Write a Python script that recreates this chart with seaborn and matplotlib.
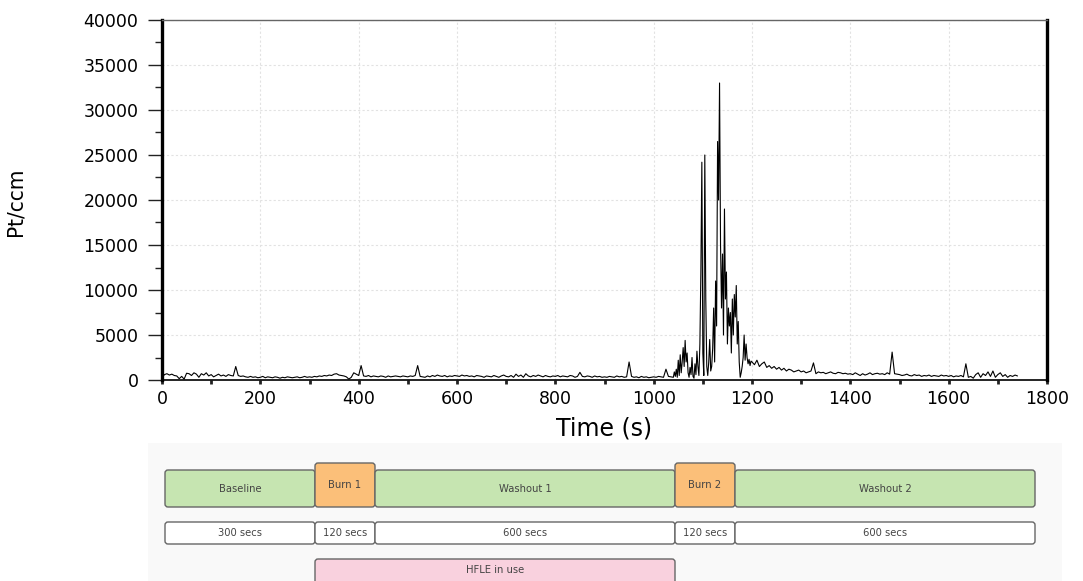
import numpy as np
import pandas as pd
import matplotlib
matplotlib.use("Agg")
import matplotlib.pyplot as plt
from matplotlib.patches import FancyBboxPatch
import seaborn as sns

# ---- particle concentration trace (Pt/ccm) ----
# quiet baseline, 0-1035 s every 5 s
t_pre = np.arange(0, 1040, 5)
c_pre = [
    250, 600, 700, 550, 650, 500, 450, 150, 400, 100, 750, 700, 500, 800, 650, 300, 700, 550, 800, 450,
    600, 350, 500, 650, 450, 550, 400, 600, 500, 450, 1500, 500, 400, 450, 350, 300, 400, 300, 350, 250,
    300, 400, 250, 350, 300, 250, 350, 300, 200, 300, 250, 350, 300, 250, 300, 350, 250, 300, 400, 300,
    350, 300, 400, 350, 450, 400, 500, 450, 550, 500, 650, 700, 550, 500, 450, 350, 100, 300, 800, 650,
    500, 1600, 450, 400, 500, 350, 450, 400, 350, 450, 400, 300, 450, 350, 400, 450, 400, 350, 450, 400,
    350, 450, 400, 500, 1600, 400, 350, 300, 450, 350, 500, 400, 550, 450, 400, 500, 350, 450, 400, 500,
    450, 400, 550, 450, 500, 400, 450, 350, 500, 450, 400, 300, 450, 400, 350, 500, 400, 300, 450, 550,
    400, 350, 500, 300, 650, 400, 550, 300, 700, 450, 350, 500, 400, 550, 450, 350, 500, 400, 350, 450,
    400, 500, 350, 450, 400, 350, 500, 450, 300, 400, 850, 400, 350, 450, 400, 300, 450, 350, 400, 300,
    350, 300, 400, 350, 300, 450, 350, 400, 300, 350, 2000, 400, 300, 350, 250, 400, 300, 350, 250, 300,
    350, 300, 400, 350, 300, 1200, 400, 350,
]

# burst, 1040-1198 s every 2 s
t_burst = np.arange(1040, 1200, 2)
c_burst = [
    300, 900, 400, 1200, 300, 2200, 500, 2800, 800, 2000,
    3600, 1500, 4400, 2000, 3000, 800, 300, 1400, 600, 2500,
    400, 200, 1800, 600, 3200, 1500, 500, 4000, 12000, 24200,
    3000, 500, 25000, 9000, 1500, 500, 2000, 4500, 1000, 1500,
    3500, 8000, 2000, 11000, 6000, 26500, 20000, 33000, 15000, 8000,
    14000, 5000, 19000, 9000, 12000, 4000, 8000, 6000, 7500, 3000,
    9000, 5000, 9500, 7000, 10500, 4000, 6500, 2000, 300, 800,
    1500, 2500, 5000, 2200, 4000, 2500, 1800, 2300, 1600, 2100,
]

# decay and tail, 1200-1740 s every 5 s
t_post = np.arange(1200, 1745, 5)
c_post = [
    2000, 1700, 2200, 1500, 1800, 2000, 1400, 1600, 1300, 1500, 1200, 1400, 1100, 1300, 1000, 1200, 1100, 900, 1000, 1100,
    900, 1000, 800, 900, 1000, 1900, 700, 900, 800, 850, 700, 800, 900, 750, 700, 850, 800, 700, 750, 650,
    700, 600, 800, 650, 500, 700, 550, 650, 800, 600, 700, 750, 650, 700, 600, 800, 650, 3100, 700, 650,
    600, 500, 550, 650, 500, 450, 600, 500, 550, 400, 500, 450, 550, 400, 500, 450, 400, 550, 450, 500,
    400, 500, 350, 450, 400, 500, 350, 1800, 300, 400, 200, 600, 800, 300, 700, 500, 900, 400, 1000, 300,
    600, 800, 400, 600, 300, 500, 400, 550, 450,
]

# ---- protocol timeline ----
phases = ["Baseline", "Burn 1", "Washout 1", "Burn 2", "Washout 2"]
durations = [300, 120, 600, 120, 600]
phase_kind = ["rest", "burn", "rest", "burn", "rest"]
hfle_label = "HFLE in use"
hfle_phases = ["Burn 1", "Washout 1"]

x_ticks = [0, 200, 400, 600, 800, 1000, 1200, 1400, 1600, 1800]
y_ticks = [0, 5000, 10000, 15000, 20000, 25000, 30000, 35000, 40000]

df = pd.DataFrame({
    "time": np.concatenate([t_pre, t_burst, t_post]),
    "conc": np.concatenate([c_pre, c_burst, c_post]),
})

sns.set_theme(style="white")
plt.rcParams["font.family"] = ["DejaVu Sans"]

W, H = 1083, 581
fig = plt.figure(figsize=(W / 100, H / 100), dpi=100)

ax = fig.add_axes([162 / W, 1 - 380 / H, 885 / W, 360 / H])
sns.lineplot(data=df, x="time", y="conc", ax=ax, color="black",
             linewidth=0.8, estimator=None, sort=False)

ax.set_xlim(0, 1800)
ax.set_ylim(0, 40000)
ax.set_xticks(x_ticks)
ax.set_yticks(y_ticks)
ax.set_xticks(np.arange(100, 1800, 200), minor=True)
ax.set_yticks(np.arange(2500, 40000, 5000), minor=True)
ax.tick_params(axis="y", which="major", length=10, width=1.0, color="#222",
               labelsize=12.5, labelcolor="black", pad=7, direction="out", left=True)
ax.tick_params(axis="y", which="minor", length=5, width=1.0, color="#222",
               direction="out", left=True)
ax.tick_params(axis="x", which="both", length=3, width=2.0, color="#222",
               labelsize=12.5, labelcolor="black", pad=4, direction="out", bottom=True)

ax.grid(True, which="major", color="#e2e2e2", linestyle=(0, (2, 2)), linewidth=0.8)
for side in ["left", "right"]:
    ax.spines[side].set_linewidth(2.4)
    ax.spines[side].set_color("black")
ax.spines["bottom"].set_linewidth(1.2)
ax.spines["bottom"].set_color("black")
ax.spines["top"].set_linewidth(1.0)
ax.spines["top"].set_color("#666666")

ax.set_xlabel("Time (s)", fontsize=17, labelpad=6, color="black")
ax.set_ylabel("Pt/ccm", fontsize=16, color="black", family="DejaVu Sans",
              fontstretch="condensed")
ax.yaxis.set_label_coords(-0.154, 0.496)

# ---- timeline panel (x in seconds, y in pixel rows from its top) ----
tl = fig.add_axes([148 / W, 0, 914 / W, 138 / H])
tl.set_xlim((148 - 165) * 2, (1062 - 165) * 2)
tl.set_ylim(138, 0)
tl.set_facecolor("#f9f9f9")
tl.set_xticks([])
tl.set_yticks([])
for s in tl.spines.values():
    s.set_visible(False)

colors = {"rest": "#c6e5b1", "burn": "#fbbf79"}
edge = "#666666"
txt = "#444444"


def box(x0, x1, y0, y1, face, label, ty=None):
    p = FancyBboxPatch((x0, y0), x1 - x0, y1 - y0,
                       boxstyle="round,pad=0,rounding_size=6",
                       mutation_aspect=0.5, facecolor=face,
                       edgecolor=edge, linewidth=1.0)
    tl.add_patch(p)
    tl.text((x0 + x1) / 2, (y0 + y1) / 2 if ty is None else ty,
            label, ha="center", va="center", fontsize=7.2, color=txt)


starts = np.concatenate([[0], np.cumsum(durations)[:-1]])
for name, d, s0, kind in zip(phases, durations, starts, phase_kind):
    top = 20 if kind == "burn" else 27
    box(s0, s0 + d, top, 64, colors[kind], name)
    box(s0, s0 + d, 79, 101, "white", f"{d} secs")

h0 = starts[phases.index(hfle_phases[0])]
h1 = starts[phases.index(hfle_phases[-1])] + durations[phases.index(hfle_phases[-1])]
box(h0, h1, 116, 146, "#f9d1de", hfle_label, ty=127)

fig.savefig("out.png", dpi=100, facecolor="white")
